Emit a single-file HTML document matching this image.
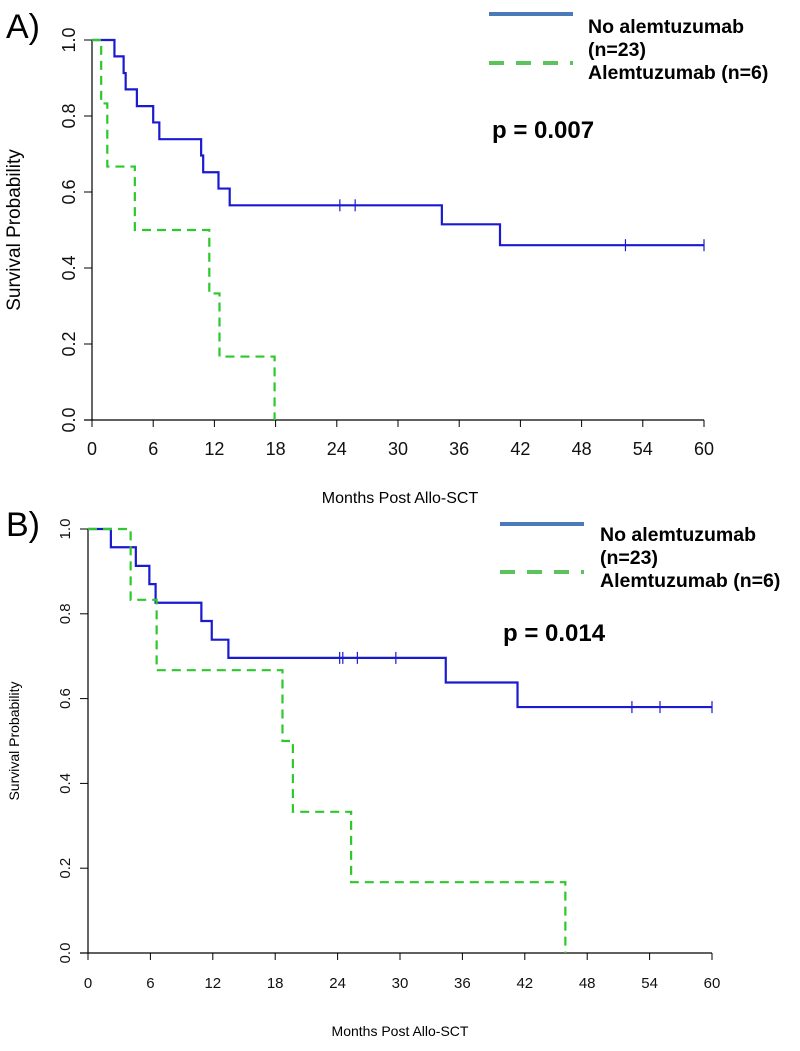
<!DOCTYPE html>
<html><head><meta charset="utf-8"><style>
body{margin:0;background:#fff;width:800px;height:1046px;overflow:hidden}
svg text{font-family:"Liberation Sans",Arial,sans-serif}
</style></head><body>
<svg id="s" width="800" height="1046" xmlns="http://www.w3.org/2000/svg"></svg>
<script>
const xTicks=[0,6,12,18,24,30,36,42,48,54,60];
const yTicks=["0.0","0.2","0.4","0.6","0.8","1.0"];
const aBlueT=[0,2.2,3.1,3.3,4.4,6.0,6.6,10.7,10.9,12.4,13.5,34.3,40.0,60];
const aBlueS=[1.0,0.957,0.913,0.87,0.826,0.783,0.739,0.696,0.652,0.609,0.565,0.515,0.46,0.46];
const aBlueCens=[24.3,25.8,52.3,60];
const aGreenT=[0,0.9,1.5,4.2,11.5,12.5,17.9];
const aGreenS=[1.0,0.833,0.667,0.5,0.333,0.167,0.0];
const bBlueT=[0,2.2,4.6,5.9,6.5,10.9,11.9,13.5,34.4,41.3,60];
const bBlueS=[1.0,0.957,0.913,0.87,0.826,0.783,0.739,0.696,0.638,0.58,0.58];
const bBlueCens=[24.2,24.5,25.9,29.6,52.3,55,60];
const bGreenT=[0,4.1,6.6,18.7,19.7,25.3,45.9];
const bGreenS=[1.0,0.833,0.667,0.5,0.333,0.167,0.0];

const svg=document.getElementById('s');
const NS="http://www.w3.org/2000/svg";
function mk(tag,attrs,parent){const e=document.createElementNS(NS,tag);for(const k in attrs)e.setAttribute(k,attrs[k]);(parent||svg).appendChild(e);return e;}
function txt(s,attrs,name,parent){const e=mk('text',attrs,parent);e.textContent=s;


return e;}

function panel(P){
 const g=mk('g',{});
 
 
 const X=v=>P.x0+(v/60)*(P.x1-P.x0);
 const Y=v=>P.y0-v*(P.y0-P.y1);
 const ax=mk('path',{d:`M${P.x0},${P.y1}V${P.y0}M${P.x0-8},${P.y0}H${P.x1}`,stroke:'#000','stroke-width':1.2,fill:'none'},g);
 
 
 xTicks.forEach(t=>{
  const l=mk('line',{x1:X(t),x2:X(t),y1:P.y0,y2:P.y0+7,stroke:'#000','stroke-width':1},g);
  
  
  txt(String(t),{x:X(t),y:P.y0+35,'font-size':P.tf,'text-anchor':'middle',fill:'#111'},'x-tick-label',g);
 });
 yTicks.forEach(t=>{
  const y=Y(parseFloat(t));
  const l=mk('line',{x1:P.x0-8,x2:P.x0,y1:y,y2:y,stroke:'#000','stroke-width':1},g);
  
  
  txt(t,{x:P.x0-22,y:y,'font-size':P.tf,'text-anchor':'middle',fill:'#111',transform:`rotate(-90 ${P.x0-22} ${y})`,'dominant-baseline':'middle'},'y-tick-label',g);
 });
 const ymid=(P.y0+P.y1)/2;
 txt('Survival Probability',{x:P.ylx,y:ymid,'font-size':P.yf,'text-anchor':'middle',transform:`rotate(-90 ${P.ylx} ${ymid})`},'y-axis-title',g);
 txt('Months Post Allo-SCT',{x:400,y:P.xty,'font-size':P.xf,'text-anchor':'middle'},'x-axis-title',g);
 txt(P.label,{x:6,y:P.ly,'font-size':34},'panel-label',g);
 function step(T,S,color,dash,name){
  let d=`M${X(T[0])},${Y(S[0])}`;
  for(let i=1;i<T.length;i++){d+=`H${X(T[i])}V${Y(S[i])}`;}
  const p=mk('path',{d,stroke:color,'stroke-width':2.2,fill:'none','stroke-dasharray':dash||'none'},g);
  
  
  return S;
 }
 step(P.bt,P.bs,'#1a1ad0',null,'no-alemtuzumab-curve');
 step(P.gt,P.gs,'#2cc82c','9,6','alemtuzumab-curve');
 P.bc.forEach(c=>{
  let s=P.bs[0];for(let i=0;i<P.bt.length;i++){if(P.bt[i]<=c)s=P.bs[i];}
  const l=mk('line',{x1:X(c),x2:X(c),y1:Y(s)-6,y2:Y(s)+6,stroke:'#1a1ad0','stroke-width':1.2},g);
  
  
 });
 const L=P.leg;
 const l1=mk('line',{x1:L.x,x2:L.x+L.w,y1:L.y1,y2:L.y1,stroke:'#4a7ab8','stroke-width':4},g);
 
 
 const l2=mk('line',{x1:L.x,x2:L.x+L.w,y1:L.y2,y2:L.y2,stroke:'#5cc25c','stroke-width':4,'stroke-dasharray':'15,12'},g);
 
 
 txt('No alemtuzumab',{x:L.tx,y:L.t1,'font-size':19.5,'font-weight':'bold'},'legend-entry',g);
 txt('(n=23)',{x:L.tx,y:L.t1+23,'font-size':19.5,'font-weight':'bold'},'legend-entry',g);
 txt('Alemtuzumab (n=6)',{x:L.tx,y:L.t1+46,'font-size':19.5,'font-weight':'bold'},'legend-entry',g);
 txt(P.p,{x:P.px,y:P.py,'font-size':24,'font-weight':'bold'},'p-value',g);
}
panel({id:'a',label:'A)',ly:38,x0:92,x1:704,y0:420,y1:40,tf:18,yf:19,ylx:20,xf:16,xty:503,
 bt:aBlueT,bs:aBlueS,bc:aBlueCens,gt:aGreenT,gs:aGreenS,
 leg:{x:489,w:84,y1:14,y2:63,tx:588,t1:33},p:'p = 0.007',px:492,py:138});
panel({id:'b',label:'B)',ly:536,x0:88,x1:712,y0:953,y1:529,tf:15,yf:14,ylx:19,xf:14,xty:1036,
 bt:bBlueT,bs:bBlueS,bc:bBlueCens,gt:bGreenT,gs:bGreenS,
 leg:{x:500,w:84,y1:524,y2:572,tx:600,t1:541},p:'p = 0.014',px:503,py:641});
</script>
</body></html>
